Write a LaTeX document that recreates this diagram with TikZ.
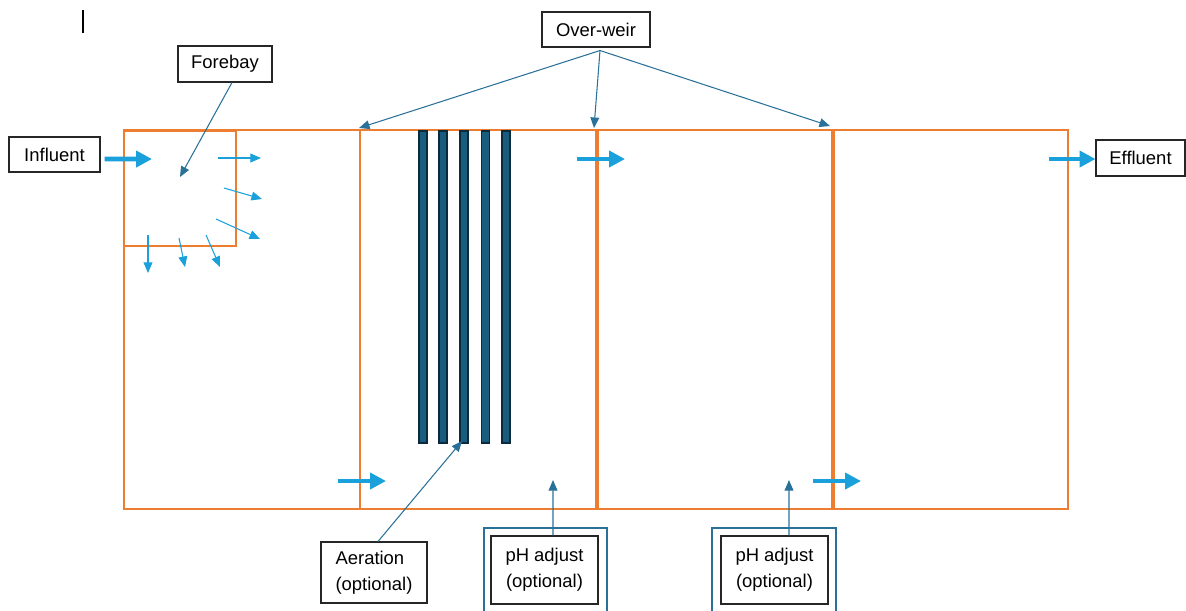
\documentclass[tikz,border=0pt]{standalone}
\usepackage{fontspec}
\setmainfont{Liberation Sans}
\usetikzlibrary{arrows.meta}
\definecolor{tankorange}{HTML}{ED7D31}
\definecolor{flowblue}{HTML}{1AA0DA}
\definecolor{leadteal}{HTML}{2A7199}
\definecolor{barfill}{HTML}{1A5C7E}
\definecolor{bardark}{HTML}{0B2A3C}

\begin{document}
\begin{tikzpicture}[%
      x=0.02cm, y=-0.02cm,
      tank/.style={color=tankorange, line width=1.2pt},
      wall/.style={color=tankorange, line width=2pt},
      bar/.style={fill=barfill, draw=bardark, line width=0.9pt},
      label/.style={draw=black!85, line width=0.6pt, font=\fontsize{10.5}{15}\selectfont, inner sep=0pt},
      phframe/.style={draw=leadteal, line width=1.2pt},
      bigflow/.style={color=flowblue, line width=2.8pt, -{Triangle[length=9pt,width=9pt]}},
      smallflow/.style={color=flowblue, line width=0.6pt, -{Triangle[length=6pt,width=5pt]}},
      lead/.style={color=leadteal, line width=0.6pt, -{Triangle[length=6pt,width=5pt]}},
      ]
      \useasboundingbox (0,0) rectangle (1186,610);
      \clip (0,0) rectangle (1186,610);
      \draw [line width=0.8pt] (83,10) -- (83,33);

      \draw [tank] (124,130) rectangle (1068,509);
      \draw [tank] (124,131) rectangle (236,246);
      \draw [tank] (360,130) -- (360,509);
      \draw [wall] (597,130) -- (597,509);
      \draw [wall] (833,130) -- (833,509);

      \foreach \x in {423,443,464,485.5,506}
        \filldraw [bar] (\x-4,131) rectangle (\x+4,443);

      \node [label, minimum width=1.82cm, minimum height=0.7cm] (inf) at (54.5,154.5) {Influent};
      \node [label, minimum width=1.88cm, minimum height=0.72cm] (fb) at (225,64) {Forebay};
      \node [label, minimum width=2.16cm, minimum height=0.7cm] (ow) at (596,29.5) {Over-weir};
      \node [label, minimum width=1.78cm, minimum height=0.72cm] (eff) at (1140.5,158) {Effluent};
      \node [label, minimum width=2.12cm, minimum height=1.22cm, align=left] (aer) at (374,572.5) {Aeration\\(optional)};
      \node [phframe, minimum width=2.46cm, minimum height=1.76cm] (ph1box) at (545.5,572) {};
      \node [phframe, minimum width=2.48cm, minimum height=1.76cm] (ph2box) at (774,572) {};
      \node [label, fill=white, minimum width=2.14cm, minimum height=1.36cm, align=center] (ph1) at (544.5,570) {pH adjust\\(optional)};
      \node [label, fill=white, minimum width=2.14cm, minimum height=1.36cm, align=center] (ph2) at (774.5,570) {pH adjust\\(optional)};

      \coordinate (fbin) at (152,159);
      \coordinate (fbcentre) at (180,177);
      \coordinate (weir1) at (359,128);
      \coordinate (weir2) at (594,128);
      \coordinate (weir3) at (830,126);
      \coordinate (bartip) at (462,441);
      \coordinate (dose1) at (553,480);
      \coordinate (dose2) at (789,480);
      \coordinate (effin) at (1049,159);
      \coordinate (owfoot) at ([xshift=0.08cm,yshift=-0.06cm]ow.south);

      \draw [bigflow] ([xshift=0.08cm,yshift=-0.09cm]inf.east) -- (fbin);
      \draw [bigflow] (effin) -- (effin -| eff.west);
      \draw [bigflow] (338,481) -- (386,481);
      \draw [bigflow] (577,159) -- (625,159);
      \draw [bigflow] (813,481) -- (861,481);

      \draw [smallflow] (218,158) -- (261,158);
      \draw [smallflow] (224,188) -- (262,199);
      \draw [smallflow] (216,219) -- (260,239);
      \draw [smallflow] (148,235) -- (148,273);
      \draw [smallflow] (179,238) -- (185,267);
      \draw [smallflow] (206,235) -- (220,267);

      \draw [lead] ([xshift=0.14cm]fb.south) -- (fbcentre);
      \draw [lead] (owfoot) -- (weir1);
      \draw [lead] (owfoot) -- (weir2);
      \draw [lead] (owfoot) -- (weir3);
      \draw [lead] ([xshift=0.08cm]aer.north) -- (bartip);
      \draw [lead] ([xshift=0.17cm]ph1.north) -- (dose1);
      \draw [lead] ([xshift=0.29cm]ph2.north) -- (dose2);
\end{tikzpicture}
\end{document}
